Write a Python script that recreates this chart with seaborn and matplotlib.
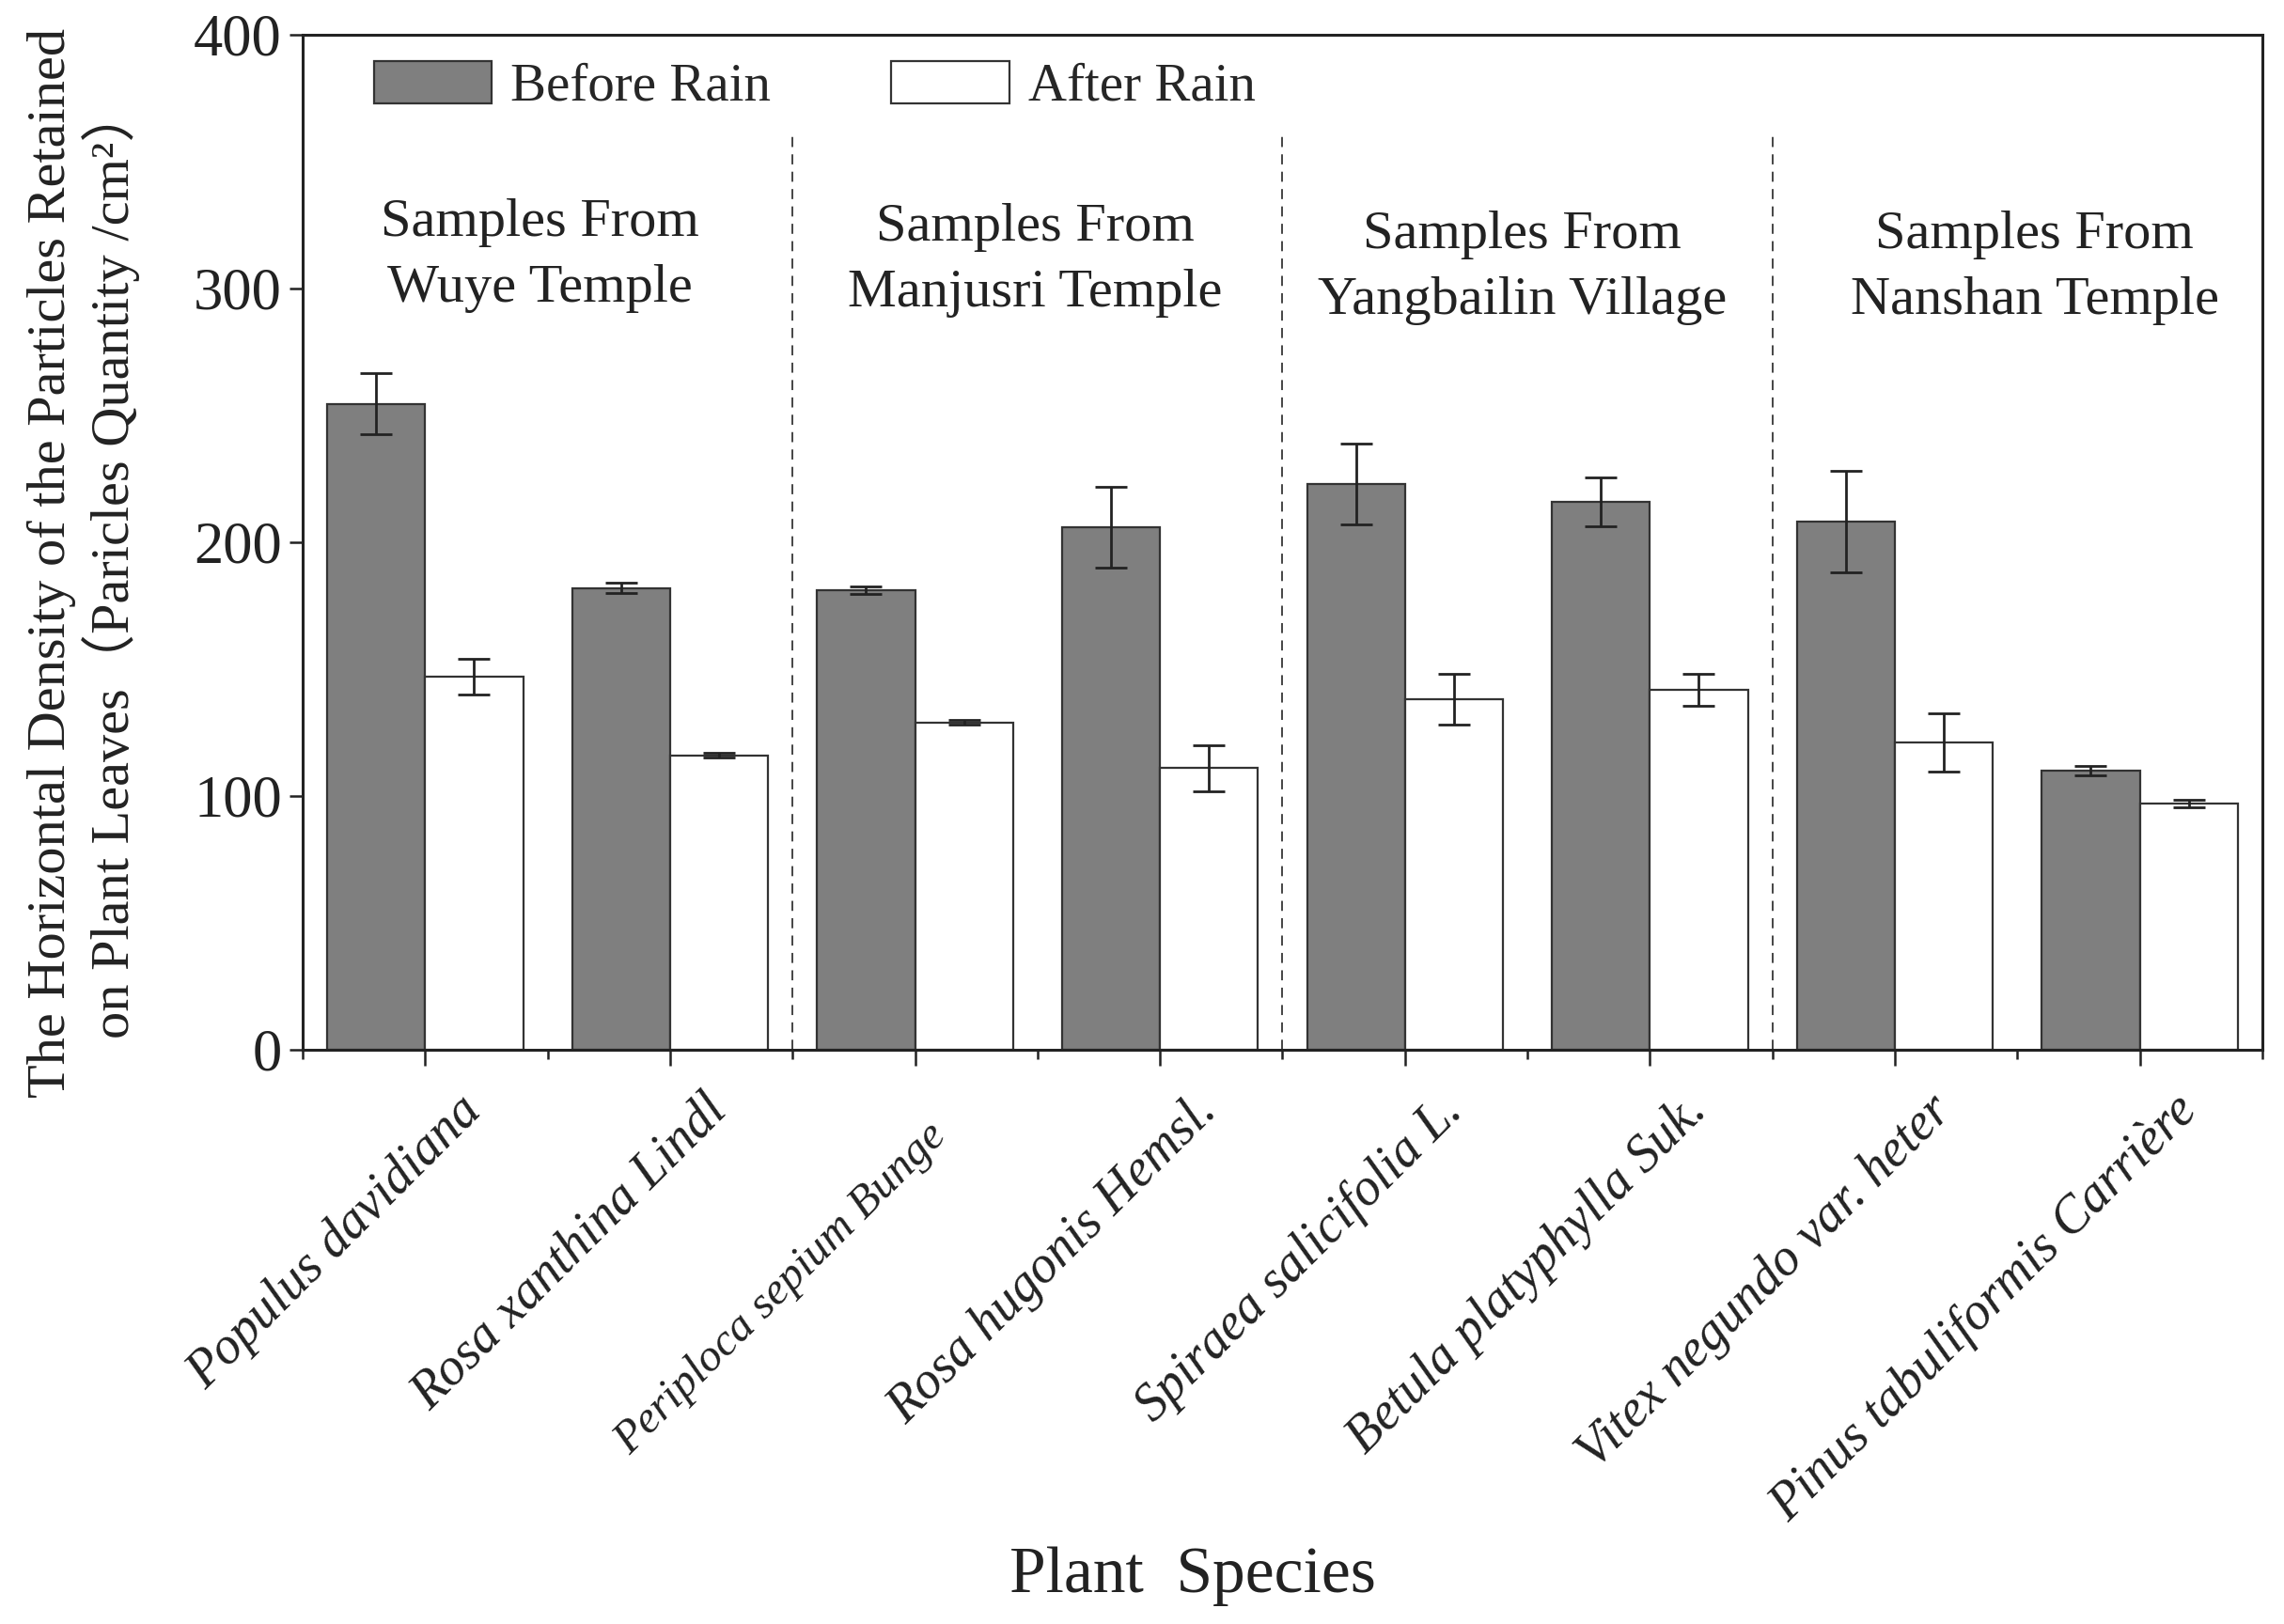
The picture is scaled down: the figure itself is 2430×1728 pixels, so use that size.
import numpy as np
import pandas as pd
import matplotlib
matplotlib.use("Agg")
import matplotlib.pyplot as plt
import matplotlib.transforms as mtransforms
import seaborn as sns

# ---- data ----
species = ["Populus davidiana", "Rosa xanthina Lindl", "Periploca sepium Bunge",
           "Rosa hugonis Hemsl.", "Spiraea salicifolia L.", "Betula platyphylla Suk.",
           "Vitex negundo var. heter", "Pinus tabuliformis Carrière"]
before_rain = [254.5, 182, 181, 206, 223, 216, 208, 110]
before_err = [12, 2, 1.5, 16, 16, 9.7, 20, 2]
after_rain = [147, 116, 129, 111, 138, 142, 121, 97]
after_err = [7, 1, 1, 9, 10, 6.3, 11.5, 1.5]
conditions = ["Before Rain", "After Rain"]
group_labels = ["Samples From\nWuye Temple", "Samples From\nManjusri Temple",
                "Samples From\nYangbailin Village", "Samples From\nNanshan Temple"]
group_label_x = [0.47, 2.49, 4.48, 6.57]
group_label_y = [313, 311, 308, 308]
separators = [1.5, 3.5, 5.5]
y_ticks = [0, 100, 200, 300, 400]

df = pd.DataFrame({
    "species": species * 2,
    "value": before_rain + after_rain,
    "condition": [conditions[0]] * len(species) + [conditions[1]] * len(species),
})
errs = {conditions[0]: before_err, conditions[1]: after_err}

sns.set_style("ticks")
plt.rcParams["font.family"] = ["Liberation Serif", "Noto Sans CJK SC", "DejaVu Sans"]
plt.rcParams["mathtext.fontset"] = "stix"

fig = plt.figure(figsize=(24.3, 17.28), dpi=100)
ax = fig.add_axes([0.1325, 0.3536, 0.858, 0.625])

sns.barplot(data=df, x="species", y="value", hue="condition", order=species,
            hue_order=conditions,
            palette={conditions[0]: "#7f7f7f", conditions[1]: "#ffffff"},
            edgecolor="#333333", linewidth=1.6, width=0.8, errorbar=None,
            saturation=1, ax=ax)

for cont, cond in zip(ax.containers, conditions):
    xs = [b.get_x() + b.get_width() / 2 for b in cont]
    ys = [b.get_height() for b in cont]
    ax.errorbar(xs, ys, yerr=errs[cond], fmt="none", ecolor="#222222",
                elinewidth=2.0, capsize=12, capthick=2.0, zorder=5)

for sx in separators:
    ax.plot([sx, sx], [0, 360], linestyle=(0, (5.5, 4)), color="#444444",
            linewidth=1.4, zorder=1)

for gx, gy, gl in zip(group_label_x, group_label_y, group_labels):
    ax.text(gx, gy, gl, ha="center", va="center", fontsize=42,
            color="#222222", linespacing=1.45)

ax.set_xlim(-0.5, 7.5)
ax.set_ylim(0, 400)
ax.set_yticks(y_ticks)
ax.set_yticklabels([str(t) for t in y_ticks], fontsize=45)
ax.set_xticks(range(len(species)))
ax.set_xticks(np.arange(-0.5, len(species), 1.0), minor=True)

ax.tick_params(axis="y", which="major", direction="out", length=10, width=1.8,
               colors="#222222", pad=6)
ax.tick_params(axis="x", which="major", direction="out", length=12, width=1.8,
               colors="#222222", pad=10)
ax.tick_params(axis="x", which="minor", direction="out", length=7, width=1.8,
               colors="#222222")

ax.set_xticklabels(species, rotation=45, ha="right", va="top",
                   rotation_mode="anchor", fontstyle="italic", fontsize=40)
for lbl in ax.get_xticklabels():
    if lbl.get_text().startswith("Periploca"):
        lbl.set_fontsize(35)
        off = mtransforms.ScaledTranslation(0.11, -0.39, fig.dpi_scale_trans)
    else:
        off = mtransforms.ScaledTranslation(0.34, -0.08, fig.dpi_scale_trans)
    lbl.set_transform(lbl.get_transform() + off)

for sp in ax.spines.values():
    sp.set_visible(True)
    sp.set_linewidth(2.2)
    sp.set_color("#222222")

ax.set_xlabel("Plant  Species", fontsize=50, color="#222222")
ax.xaxis.set_label_coords(0.454, -0.489)
ax.set_ylabel("The Horizontal Density of the Particles Retained\n"
              "on Plant Leaves（Paricles Quantity /cm²）",
              fontsize=42, color="#222222", linespacing=1.12)
ax.yaxis.set_label_coords(-0.083, 0.48)

handles, labels = ax.get_legend_handles_labels()
ax.legend(handles, labels, ncol=2, frameon=False, loc="upper left",
          bbox_to_anchor=(0.031, 0.985), borderaxespad=0, borderpad=0.2,
          fontsize=41, handlelength=2.2, handleheight=0.85,
          handletextpad=0.35, columnspacing=2.25)

fig.savefig("out.png", dpi=100, facecolor="white")
